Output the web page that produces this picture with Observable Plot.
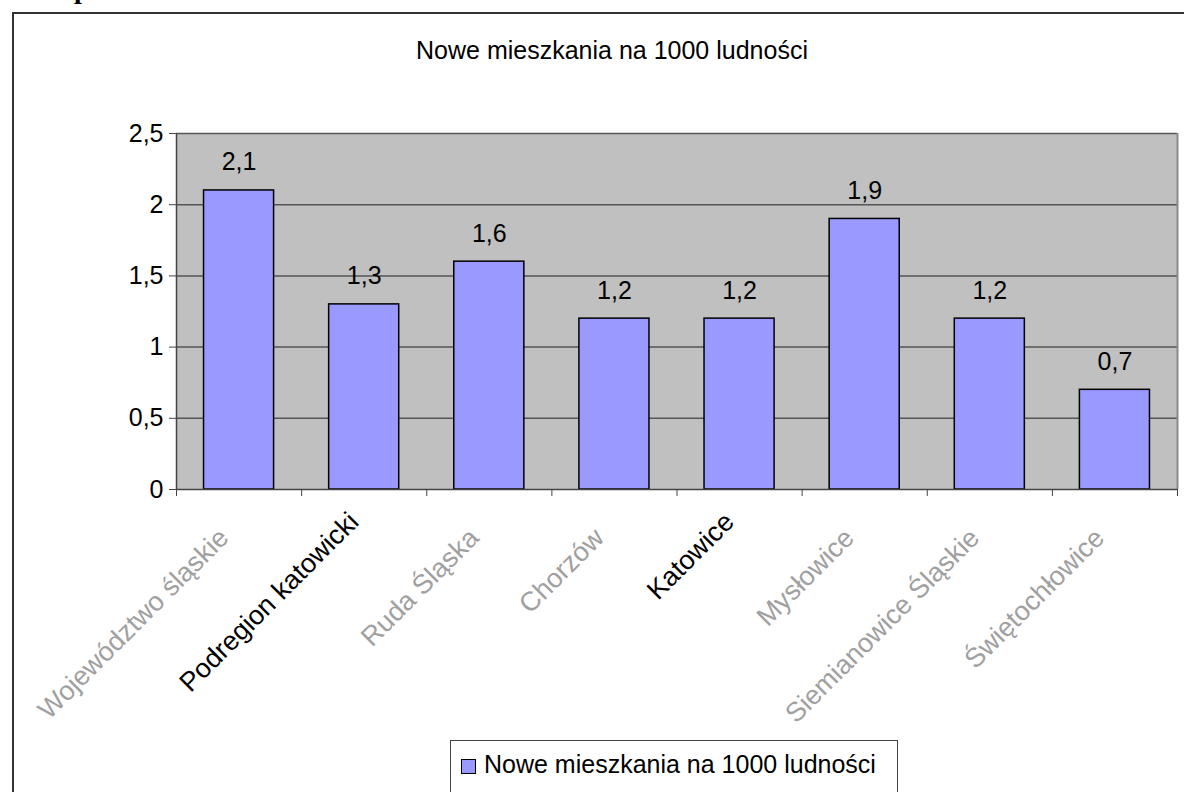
<!DOCTYPE html>
<html><head><meta charset="utf-8">
<script src="https://cdn.jsdelivr.net/npm/d3@7"></script>
<script src="https://cdn.jsdelivr.net/npm/@observablehq/plot@0.6"></script>
<style>
body{margin:0;background:#fff;}
#page{position:relative;width:1184px;height:792px;overflow:hidden;background:#fff;font-family:"Liberation Sans",Arial,sans-serif;}
#frame{position:absolute;left:12px;top:12px;width:1300px;height:900px;border-left:2px solid #333;border-top:2px solid #333;}
#pp{position:absolute;left:74px;top:-26px;font:bold 28px "Liberation Serif",serif;line-height:30px;color:#000;}
#title{position:absolute;left:12px;width:1200px;top:36px;text-align:center;font-size:25px;line-height:28px;color:#000;}
#chart{position:absolute;left:0;top:100px;}
#legend{position:absolute;left:450px;top:740px;width:448px;height:60px;border:1px solid #444;box-sizing:border-box;background:#fff;}
#legend .sw{position:absolute;left:10px;top:18px;width:13px;height:13px;background:#9999FF;border:1px solid #000;}
#legend .lt{position:absolute;left:33px;top:8px;font-size:25px;line-height:30px;color:#000;white-space:nowrap;}
</style>
</head><body>
<div id="page">
  <div id="pp">p</div>
  <div id="frame"></div>
  <div id="title"></div>
  <div id="chart"></div>
  <div id="legend"><span class="sw"></span><span class="lt"></span></div>
</div>
<script>
const categories = ["Województwo śląskie","Podregion katowicki","Ruda Śląska","Chorzów","Katowice","Mysłowice","Siemianowice Śląskie","Świętochłowice"];
const values = [2.1,1.3,1.6,1.2,1.2,1.9,1.2,0.7];
const emphasized = [false,true,false,false,true,false,false,false];
const yTicks = [0,0.5,1,1.5,2,2.5];
const chartTitle = "Nowe mieszkania na 1000 ludności";
const seriesName = "Nowe mieszkania na 1000 ludności";

document.getElementById("title").textContent = chartTitle;
document.querySelector("#legend .lt").textContent = seriesName;

const data = categories.map((c, i) => ({c, i, v: values[i], strong: emphasized[i]}));
const fmt = d => String(d).replace(".", ",");

const chart = Plot.plot({
  width: 1184, height: 640,
  marginLeft: 176, marginRight: 7, marginTop: 33, marginBottom: 251,
  style: {fontFamily: "'Liberation Sans', Arial, sans-serif", fontSize: "25px", background: "transparent", overflow: "visible"},
  x: {type: "linear", domain: [0, categories.length], axis: null},
  y: {domain: [0, 2.5], axis: null},
  marks: [
    Plot.frame({fill: "#C0C0C0", stroke: null}),
    Plot.gridY(yTicks.slice(1), {stroke: "#555", strokeOpacity: 1, strokeWidth: 1.5}),
    Plot.ruleX([categories.length], {stroke: "#8a8a8a", strokeWidth: 2}),
    Plot.rectY(data, {x1: d => d.i + 0.22, x2: d => d.i + 0.78, y: "v", fill: "#9999FF", stroke: "#000", strokeWidth: 1.5}),
    Plot.ruleX([0], {stroke: "#444", strokeWidth: 1.5}),
    Plot.ruleY([0], {stroke: "#444", strokeWidth: 1.5}),
    Plot.axisY({ticks: yTicks, tickFormat: fmt, tickSize: 7, tickPadding: 6, fontSize: 25, stroke: "#444", label: null}),
    Plot.axisX({ticks: d3.range(0, categories.length + 1), tickFormat: () => "", tickSize: 7, stroke: "#444", label: null}),
    Plot.text(data, {x: d => d.i + 0.5, y: "v", text: d => fmt(d.v), dy: -28, fontSize: 25, fill: "#000"}),
    Plot.text(data, {filter: d => !d.strong, x: d => d.i + 0.5, frameAnchor: "bottom", text: "c", rotate: -45, textAnchor: "end", dx: -9, dy: 50, fill: "#a0a0a0", fontSize: 27}),
    Plot.text(data, {filter: d => d.strong, x: d => d.i + 0.5, frameAnchor: "bottom", text: "c", rotate: -45, textAnchor: "end", dx: -4, dy: 34, fill: "#000", fontSize: 27})
  ]
});
document.getElementById("chart").appendChild(chart);
</script>
</body></html>
